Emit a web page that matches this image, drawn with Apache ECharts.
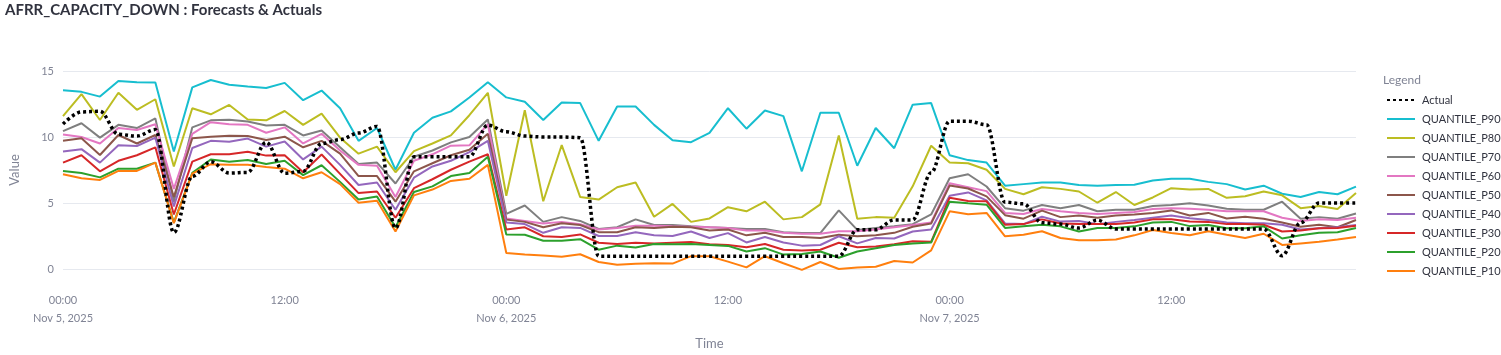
<!DOCTYPE html>
<html>
<head>
<meta charset="utf-8">
<script src="https://cdn.jsdelivr.net/npm/echarts@6/dist/echarts.min.js"></script>
<style>
html,body{margin:0;padding:0;background:#fff;}
#chart{width:1501px;height:355px;}
</style>
</head>
<body>
<div id="chart"></div>
<script>
const times = [
"2025-11-05T00:00","2025-11-05T01:00","2025-11-05T02:00","2025-11-05T03:00","2025-11-05T04:00","2025-11-05T05:00",
"2025-11-05T06:00","2025-11-05T07:00","2025-11-05T08:00","2025-11-05T09:00","2025-11-05T10:00","2025-11-05T11:00",
"2025-11-05T12:00","2025-11-05T13:00","2025-11-05T14:00","2025-11-05T15:00","2025-11-05T16:00","2025-11-05T17:00",
"2025-11-05T18:00","2025-11-05T19:00","2025-11-05T20:00","2025-11-05T21:00","2025-11-05T22:00","2025-11-05T23:00",
"2025-11-06T00:00","2025-11-06T01:00","2025-11-06T02:00","2025-11-06T03:00","2025-11-06T04:00","2025-11-06T05:00",
"2025-11-06T06:00","2025-11-06T07:00","2025-11-06T08:00","2025-11-06T09:00","2025-11-06T10:00","2025-11-06T11:00",
"2025-11-06T12:00","2025-11-06T13:00","2025-11-06T14:00","2025-11-06T15:00","2025-11-06T16:00","2025-11-06T17:00",
"2025-11-06T18:00","2025-11-06T19:00","2025-11-06T20:00","2025-11-06T21:00","2025-11-06T22:00","2025-11-06T23:00",
"2025-11-07T00:00","2025-11-07T01:00","2025-11-07T02:00","2025-11-07T03:00","2025-11-07T04:00","2025-11-07T05:00",
"2025-11-07T06:00","2025-11-07T07:00","2025-11-07T08:00","2025-11-07T09:00","2025-11-07T10:00","2025-11-07T11:00",
"2025-11-07T12:00","2025-11-07T13:00","2025-11-07T14:00","2025-11-07T15:00","2025-11-07T16:00","2025-11-07T17:00",
"2025-11-07T18:00","2025-11-07T19:00","2025-11-07T20:00","2025-11-07T21:00","2025-11-07T22:00"
];

const actual = [10.98,11.9,11.95,10.2,10.07,10.56,2.76,7.02,8.12,7.27,7.32,9.6,7.25,7.4,9.5,9.8,10.3,10.8,3.1,8.5,8.5,8.5,8.5,10.9,
10.4,10.07,10.0,10.0,9.95,0.97,0.97,0.97,0.97,0.97,0.97,0.97,0.97,0.97,0.97,0.97,0.97,0.97,0.97,2.98,2.98,3.72,3.72,7.3,
11.2,11.2,10.93,5.06,4.94,3.5,3.4,3.1,3.7,3.03,3.03,3.03,3.03,3.03,3.03,3.03,3.03,3.03,1.0,3.5,5.0,5.0,5.0];

const p90 = [13.54,13.42,13.06,14.25,14.15,14.13,8.9,13.76,14.32,13.96,13.83,13.71,14.1,12.79,13.52,12.18,9.71,10.68,7.52,10.32,11.46,11.94,12.99,14.15,
13.0,12.67,11.29,12.62,12.57,9.71,12.31,12.31,10.92,9.76,9.61,10.32,12.18,10.63,12.01,11.58,7.4,11.84,11.84,7.82,10.68,9.15,12.45,12.57,
8.62,8.25,8.06,6.31,6.43,6.55,6.55,6.36,6.31,6.36,6.38,6.7,6.84,6.84,6.6,6.43,6.02,6.31,5.7,5.46,5.83,5.66,6.24];

const p80 = [11.58,13.25,11.29,13.35,12.06,12.86,7.77,12.18,11.72,12.43,11.33,11.26,11.97,10.92,11.77,9.95,8.74,9.27,7.33,8.93,9.51,10.12,11.65,13.35,
5.55,12.03,5.13,9.39,5.45,5.26,6.19,6.55,3.96,4.93,3.57,3.83,4.68,4.37,5.1,3.76,3.93,4.9,10.12,3.81,3.93,3.88,6.26,9.34,
8.06,8.01,7.52,6.07,5.66,6.19,6.07,5.87,5.02,5.83,4.85,5.42,6.12,6.02,6.07,5.39,5.51,5.87,5.58,4.61,4.78,4.54,5.75];

const p70 = [10.44,11.04,9.95,10.92,10.68,11.41,5.1,10.73,11.26,11.31,11.17,10.87,10.92,10.12,10.49,9.22,7.96,8.06,6.48,8.5,8.98,9.59,10.0,11.33,
4.17,4.81,3.57,3.93,3.64,3.03,3.16,3.76,3.33,3.33,3.23,3.16,3.11,3.03,3.03,2.79,2.72,2.72,4.44,2.96,3.11,3.23,3.4,4.13,
6.87,7.18,6.25,4.61,4.42,4.85,4.61,4.85,4.37,4.49,4.49,4.78,4.85,4.98,4.81,4.56,4.49,4.49,5.1,3.81,3.93,3.81,4.2];

const p60 = [10.19,10.0,9.51,10.68,10.53,10.97,6.07,10.24,11.12,10.97,10.92,10.32,10.73,9.51,10.24,8.98,7.89,7.82,5.46,8.2,8.69,9.34,9.37,10.97,
3.83,3.64,3.45,3.57,3.4,2.99,3.11,3.28,3.28,3.23,3.2,3.16,3.11,2.91,2.91,2.74,2.67,2.67,2.86,2.86,2.99,3.16,3.33,3.52,
6.5,6.2,5.9,4.25,4.17,4.54,4.37,4.25,4.17,4.25,4.32,4.54,4.61,4.56,4.49,4.37,4.37,4.37,3.88,3.64,3.76,3.71,3.88];

const p50 = [9.71,9.9,8.64,10.15,9.51,10.15,5.46,9.9,10.02,10.1,10.07,9.78,10.02,9.22,9.71,8.74,7.04,7.04,5.1,7.4,8.01,8.62,9.03,10.24,
3.74,3.57,3.16,3.47,3.33,2.79,2.79,3.16,3.11,3.2,3.16,2.91,2.99,2.55,2.74,2.43,2.43,2.35,2.6,2.48,2.55,2.74,3.2,3.45,
6.32,6.1,5.5,4.08,3.81,4.42,3.93,4.05,3.88,4.05,4.13,4.25,4.44,4.05,4.25,3.83,3.96,3.81,3.52,3.2,3.35,3.16,3.71];

const p40 = [8.91,9.08,8.06,9.37,9.32,9.95,4.73,9.17,9.71,9.64,9.88,9.27,9.66,8.3,9.27,7.89,6.36,6.55,4.49,6.92,7.77,8.2,8.86,9.71,
3.52,3.4,2.74,3.16,3.11,2.5,2.5,2.79,2.55,2.5,2.84,2.35,2.72,2.01,2.43,2.01,1.77,1.82,2.48,1.94,2.35,2.31,2.84,2.99,
5.55,5.8,5.2,3.45,3.4,3.96,3.59,3.64,3.4,3.57,3.71,3.88,4.05,3.85,3.71,3.52,3.47,3.47,3.35,2.99,3.08,3.16,3.33];

const p30 = [8.06,8.62,7.4,8.2,8.62,9.22,4.13,8.13,8.69,8.69,8.88,8.59,8.62,7.33,8.67,7.21,5.75,5.87,3.88,6.12,6.8,7.52,8.13,8.69,
2.99,3.16,2.48,2.43,2.62,1.99,1.89,1.99,1.94,1.99,2.04,1.87,1.82,1.65,1.89,1.46,1.41,1.46,1.99,1.65,1.7,1.87,2.11,2.06,
5.4,5.15,5.13,3.35,3.4,3.76,3.45,3.4,3.4,3.4,3.52,3.76,3.76,3.6,3.57,3.4,3.4,3.35,2.84,2.91,3.08,3.11,3.28];

const p20 = [7.43,7.28,6.94,7.6,7.6,8.06,3.52,7.28,8.3,8.13,8.25,7.96,8.2,7.11,7.86,6.6,5.27,5.49,3.16,5.83,6.26,7.04,7.28,8.5,
2.62,2.6,2.14,2.14,2.26,1.46,1.77,1.63,1.89,1.87,1.89,1.82,1.75,1.33,1.58,1.09,1.14,1.33,0.85,1.33,1.58,1.82,1.94,2.01,
5.1,4.98,4.87,3.11,3.23,3.35,3.23,2.84,3.11,3.11,3.23,3.52,3.57,3.25,3.33,3.08,3.08,3.23,2.31,2.55,2.74,2.79,3.11];

const p10 = [7.18,6.87,6.75,7.43,7.43,8.06,3.47,7.23,7.94,7.89,7.89,7.72,7.6,6.87,7.33,6.43,5.02,5.17,2.84,5.58,6.02,6.67,6.84,7.89,
1.21,1.09,1.02,0.92,1.12,0.53,0.32,0.39,0.44,0.41,0.97,0.97,0.56,0.12,0.97,0.44,-0.07,0.53,0.0,0.12,0.17,0.61,0.49,1.41,
4.37,4.15,4.25,2.48,2.6,2.86,2.35,2.18,2.18,2.23,2.55,2.96,2.72,2.55,2.86,2.6,2.35,2.67,1.82,1.94,2.06,2.23,2.43];

const seriesNames = ["Actual","QUANTILE_P90","QUANTILE_P80","QUANTILE_P70","QUANTILE_P60","QUANTILE_P50","QUANTILE_P40","QUANTILE_P30","QUANTILE_P20","QUANTILE_P10"];
const seriesValues = [actual,p90,p80,p70,p60,p50,p40,p30,p20,p10];
const colors = ["#000000","#17becf","#bcbd22","#7f7f7f","#e377c2","#8c564b","#9467bd","#d62728","#2ca02c","#ff7f0e"];

const MONTHS = ["Jan","Feb","Mar","Apr","May","Jun","Jul","Aug","Sep","Oct","Nov","Dec"];
const tms = times.map(t => Date.parse(t + ":00Z"));
const HOUR = 3600000;
const FONT = "Lato";

const chart = echarts.init(document.getElementById('chart'), null, {renderer: 'canvas'});

const series = seriesNames.map((name, i) => {
  const s = {
    name: name,
    type: 'line',
    data: tms.map((t, k) => [t, seriesValues[i][k]]),
    symbol: 'none',
    showSymbol: false,
    clip: false,
    color: colors[i],
    lineStyle: {width: 2, color: colors[i]},
    emphasis: {disabled: true},
    z: 2
  };
  if (i === 0) {
    s.smooth = 0.35;
    s.smoothMonotone = 'x';
    s.lineStyle = {width: 3.5, color: '#000', type: [3, 3], cap: 'butt'};
    s.z = 5;
  }
  return s;
});

chart.setOption({
  animation: false,
  backgroundColor: '#fff',
  textStyle: {fontFamily: FONT},
  title: {
    text: 'AFRR_CAPACITY_DOWN : Forecasts & Actuals',
    left: 5, top: 3,
    padding: 0,
    textStyle: {fontFamily: FONT, fontSize: 15, fontWeight: 'bold', color: '#31333F'}
  },
  graphic: [{
    type: 'text', left: 1383, top: 74,
    style: {text: 'Legend', fontFamily: FONT, fontSize: 12, fill: '#808495'}
  }],
  legend: {
    orient: 'vertical',
    left: 1386, top: 94,
    padding: 0,
    itemWidth: 28, itemHeight: 10, itemGap: 7,
    data: seriesNames,
    itemStyle: {opacity: 0},
    textStyle: {fontFamily: FONT, fontSize: 11, lineHeight: 12, color: '#31333F', padding: [0,0,0,2]},
    selectedMode: false
  },
  grid: {left: 56, right: 145, top: 71, bottom: 78},
  xAxis: {
    type: 'value',
    min: tms[0],
    max: tms[tms.length - 1],
    interval: 12 * HOUR,
    name: 'Time',
    nameLocation: 'middle',
    nameGap: 68,
    nameTextStyle: {fontFamily: FONT, fontSize: 13, color: '#808495'},
    axisLine: {show: false},
    axisTick: {show: false},
    splitLine: {show: false},
    axisLabel: {
      showMaxLabel: false,
      margin: 22,
      color: '#808495',
      fontFamily: FONT,
      fontSize: 11,
      lineHeight: 18,
      formatter: function (v) {
        const d = new Date(v);
        const hh = String(d.getUTCHours()).padStart(2, '0') + ':00';
        if (d.getUTCHours() === 0) {
          return hh + '\n' + MONTHS[d.getUTCMonth()] + ' ' + d.getUTCDate() + ', ' + d.getUTCFullYear();
        }
        return hh;
      }
    }
  },
  yAxis: {
    type: 'value',
    min: 0, max: 15, interval: 5,
    name: 'Value',
    nameLocation: 'middle',
    nameGap: 42,
    nameTextStyle: {fontFamily: FONT, fontSize: 13, color: '#808495'},
    axisLine: {show: false},
    axisTick: {show: false},
    axisLabel: {color: '#808495', fontFamily: FONT, fontSize: 11, margin: 9},
    splitLine: {lineStyle: {color: '#e6e9ef', width: 1}}
  },
  series: series
});
</script>
</body>
</html>
